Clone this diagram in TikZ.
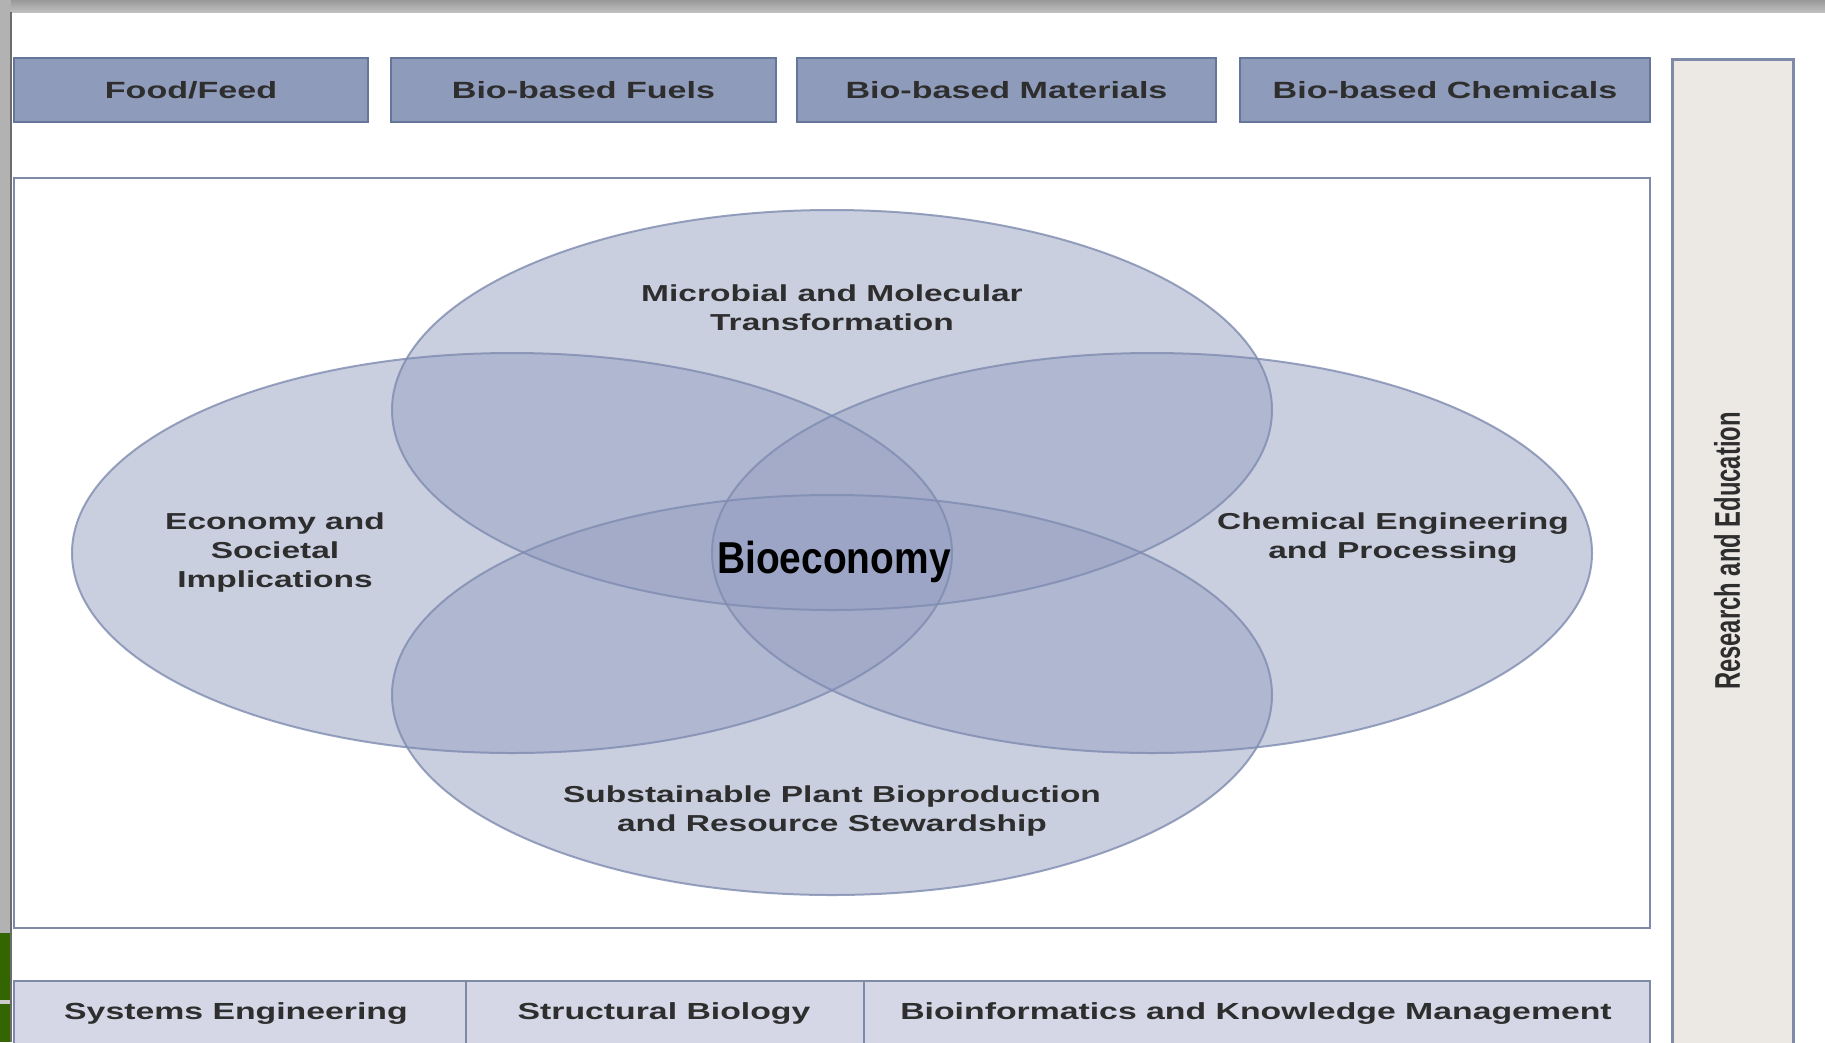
\documentclass[tikz,border=0pt]{standalone}
\usepackage{fontspec}
\setmainfont{Liberation Sans}
\newfontfamily\widefont[FakeStretch=1.45]{Liberation Sans}
\newfontfamily\narrowfont[FakeStretch=0.87]{Liberation Sans}
\definecolor{boxfill}{HTML}{8F9BBA}
\definecolor{boxedge}{HTML}{66769A}
\definecolor{lowfill}{HTML}{D5D7E6}
\definecolor{lowedge}{HTML}{7F8AA8}
\definecolor{sidefill}{HTML}{ECE9E5}
\definecolor{petalfill}{HTML}{97A0C3}
\definecolor{petaledge}{HTML}{7F8CB0}
\definecolor{labeltext}{HTML}{2E2E2E}
\tikzset{
  topbox/.style={draw=boxedge, line width=2.5pt, fill=boxfill, minimum height=64pt,
    inner sep=0pt, text=labeltext, font=\widefont\bfseries\fontsize{23.5}{28}\selectfont},
  lowbox/.style={draw=lowedge, line width=2pt, fill=lowfill},
  lowlabel/.style={text=labeltext, font=\widefont\bfseries\fontsize{23.3}{28}\selectfont},
  petal/.style={fill=petalfill, fill opacity=0.5},
  petalline/.style={draw=petaledge, line width=2pt, draw opacity=0.8},
  petallabel/.style={align=center, text=labeltext,
    font=\widefont\bfseries\fontsize{23.1}{29}\selectfont}
}
\begin{document}
\begin{tikzpicture}[x=1pt,y=-1pt]
\useasboundingbox (0,0) rectangle (1825,1042);
\clip (0,0) rectangle (1825,1042);
\fill[white] (0,0) rectangle (1825,1042);
% frame of the screenshot
\shade[top color=gray!80, bottom color=gray!50] (0,0) rectangle (1825,12);
\fill[gray!60] (0,0) rectangle (11,1042);
\fill[gray!85!black] (10,12) rectangle (12,1042);
\fill[green!25!black!80!yellow] (0,933) rectangle (10,1042);
\fill[gray!40] (0,1000) rectangle (10,1004);

% products
\node[topbox, minimum width=354pt] (food) at (191,90) {Food/Feed};
\node[topbox, minimum width=385pt] (fuels) at (583.5,90) {Bio-based Fuels};
\node[topbox, minimum width=419pt] (materials) at (1006.5,90) {Bio-based Materials};
\node[topbox, minimum width=410pt] (chemicals) at (1445,90) {Bio-based Chemicals};

% side bar
\draw[draw=lowedge, line width=3pt, fill=sidefill] (1672,59) rectangle (1793,1070);
\node[text=labeltext, rotate=90, font=\bfseries\fontsize{23.8}{28}\selectfont] (research) at (1727,551)
  {\scalebox{1}[1.5]{Research and Education}};

% main panel
\draw[draw=lowedge, line width=2pt, fill=white] (14,178) rectangle (1650,928);

% four areas
\fill[petal] (832,410) ellipse [x radius=440pt, y radius=200pt];
\fill[petal] (832,695) ellipse [x radius=440pt, y radius=200pt];
\fill[petal] (512,553) ellipse [x radius=440pt, y radius=200pt];
\fill[petal] (1152,553) ellipse [x radius=440pt, y radius=200pt];
\foreach \cx/\cy in {832/410, 832/695, 512/553, 1152/553}
  \draw[petalline] (\cx,\cy) ellipse [x radius=440pt, y radius=200pt];

\node[petallabel] (microbial) at (832,308) {Microbial and Molecular\\Transformation};
\node[petallabel] (economy) at (275,553) {Economy and\\Societal\\Implications};
\node[petallabel] (chemeng) at (1393,538) {Chemical Engineering\\and Processing};
\node[petallabel] (plant) at (832,811) {Substainable Plant Bioproduction\\and Resource Stewardship};
\node[font=\narrowfont\bfseries\fontsize{44.7}{50}\selectfont] (bioeco) at (834,562) {Bioeconomy};

% tools
\draw[lowbox] (14,981) rectangle (466,1070);
\draw[lowbox] (466,981) rectangle (864,1070);
\draw[lowbox] (864,981) rectangle (1650,1070);
\node[lowlabel] (systems) at (236,1014) {Systems Engineering};
\node[lowlabel] (structural) at (664,1014) {Structural Biology};
\node[lowlabel] (bioinf) at (1256,1014) {Bioinformatics and Knowledge Management};
\end{tikzpicture}
\end{document}
